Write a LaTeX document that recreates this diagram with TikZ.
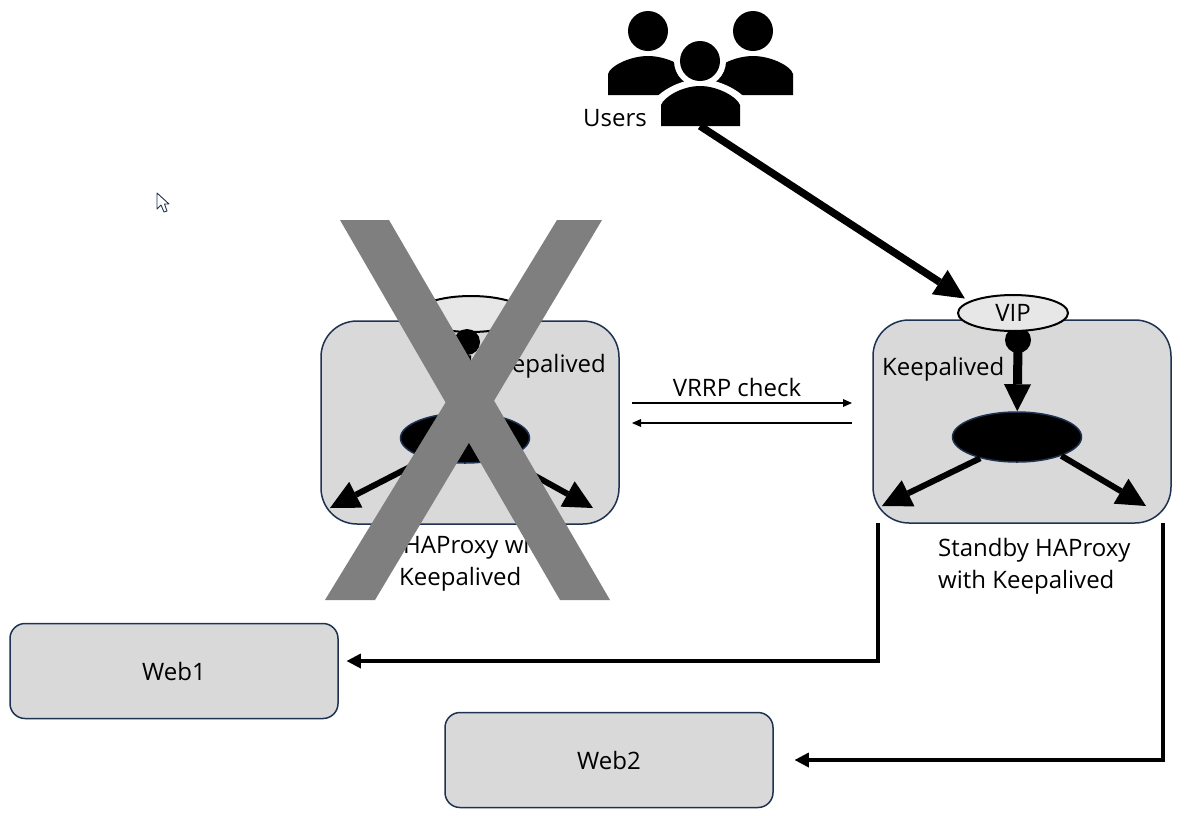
\documentclass[tikz,border=0pt]{standalone}
\usepackage{fontspec}
\setmainfont{Open Sans}
\usetikzlibrary{arrows.meta,shapes.geometric}
\definecolor{edgeblue}{HTML}{1F3251}
\definecolor{boxgray}{HTML}{D9D9D9}
\definecolor{vipgray}{HTML}{E7E7E7}
\definecolor{xgray}{HTML}{7F7F7F}
\tikzset{
  lbl/.style={font=\fontsize{24}{29}\selectfont,text=black,inner sep=0pt,align=left},
  lbx/.style={draw=edgeblue,line width=1.5pt,fill=boxgray,rounded corners=36pt,minimum width=298pt,minimum height=203pt,inner sep=0pt},
  webbox/.style={draw=edgeblue,line width=1.5pt,fill=boxgray,rounded corners=15pt,minimum width=328pt,minimum height=95pt,inner sep=0pt,font=\fontsize{24}{29}\selectfont},
  vipell/.style={ellipse,draw=black,line width=2pt,fill=vipgray,minimum width=110pt,minimum height=36pt,inner sep=0pt,font=\fontsize{24}{29}\selectfont},
  hubell/.style={ellipse,draw=edgeblue,line width=1.5pt,fill=black,minimum width=129pt,minimum height=50pt,inner sep=0pt},
  dotc/.style={circle,fill=black,minimum size=26pt,inner sep=0pt},
  bigarrow/.style={line width=9pt,-{Triangle[length=27pt,width=27pt,line width=0pt]},black},
  sidearrow/.style={line width=6pt,-{Triangle[length=29pt,width=29pt,line width=0pt]},black},
  mainarrow/.style={line width=7.5pt,-{Triangle[length=30pt,width=29pt,line width=0pt]},black},
  wirearrow/.style={line width=4pt,-{Triangle[length=14pt,width=15pt,line width=0pt]},black},
  thinarrow/.style={line width=1.8pt,-{Triangle[length=9pt,width=8pt,line width=0pt]},black},
  xstroke/.style={fill=xgray,draw=none},
  person/.style={fill=black,draw=none},
}
\begin{document}
\begin{tikzpicture}[x=1pt,y=-1pt]
\useasboundingbox (0,0) rectangle (1187,815);
\fill[white] (0,0) rectangle (1187,815);
% cursor
\draw[edgeblue,fill=white,line width=0.9pt,line join=round] (157,193) -- (157,209) -- (161,205) -- (164,212) -- (167,211) -- (164.5,204) -- (169,204) -- cycle;
% users icon
\fill[person] (648,31) circle (20);
\fill[person] (753,31) circle (20);
\fill[person] (608,95) -- (608,74) .. controls (610,66) and (630,56) .. (648,56) .. controls (666,56) and (686,66) .. (688,74) -- (688,95) -- cycle;
\fill[person] (713,95) -- (713,74) .. controls (715,66) and (735,56) .. (753,56) .. controls (771,56) and (791,66) .. (793,74) -- (793,95) -- cycle;
\fill[white] (700,61) circle (26);
\fill[white] (653,130) -- (653,103) .. controls (656,93) and (680,79) .. (700,79) .. controls (720,79) and (745,93) .. (748,103) -- (748,130) -- cycle;
\fill[person] (700,61) circle (20);
\fill[person] (661,126) -- (661,105) .. controls (664,97) and (682,86) .. (700,86) .. controls (718,86) and (737,97) .. (740,105) -- (740,126) -- cycle;
\coordinate (usersfoot) at (700,126);
\node[lbl] (userslbl) at (615,118) {Users};
% left box
\node[lbx] (lbox) at (470,422.5) {};
\node[vipell] (lvip) at (471,314) {};
\node[dotc] (ldot) at (467,342) {};
\node[hubell] (lhub) at (465,438) {};
\draw[bigarrow] (ldot) -- (lhub);
\coordinate (ltipl) at (330,508);
\coordinate (ltipr) at (593,508);
\draw[sidearrow] (lhub.208) -- (ltipl);
\draw[sidearrow] (lhub.-28) -- (ltipr);
\node[lbl,anchor=east] (lkeep) at (606,366) {Keepalived};
\node[lbl,anchor=west] (lcap) at (403,547) {HAProxy with};
\node[lbl,anchor=west] (lcapb) at (399,579) {Keepalived};
% right box
\node[lbx] (rbox) at (1022,421.5) {};
\node[dotc] (rdot) at (1018,340) {};
\node[vipell] (rvip) at (1013,313) {VIP};
\node[hubell] (rhub) at (1017,437) {};
\coordinate (rdotc) at (1018,340);
\draw[bigarrow] (rdotc) -- (rhub);
\coordinate (rtipl) at (882,506);
\coordinate (rtipr) at (1146,506);
\draw[sidearrow] (rhub.210) -- (rtipl);
\draw[sidearrow] (rhub.-23) -- (rtipr);
\node[lbl,anchor=west] (rkeep) at (882,369) {Keepalived};
\node[lbl,anchor=west] (rcap) at (938,550) {Standby HAProxy};
\node[lbl,anchor=west] (rcapb) at (938,582) {with Keepalived};
% users arrow
\draw[mainarrow,shorten >=5pt] (usersfoot) -- (rvip.165);
% VRRP
\node[lbl] (vrrp) at (737,387) {VRRP check};
\coordinate (vl) at (632,403);
\coordinate (vr) at (852,403);
\coordinate (wl) at (632,423);
\coordinate (wr) at (852,423);
\draw[thinarrow] (vl) -- (vr);
\draw[thinarrow] (wr) -- (wl);
% web boxes
\node[webbox] (web1) at (174,671) {Web1};
\node[webbox] (web2) at (609,760) {Web2};
\coordinate (c1) at (878,523);
\coordinate (c2) at (1163,523);
\draw[wirearrow] (c1) |- ([shift={(8,-10)}]web1.east);
\draw[wirearrow] (c2) |- ([shift={(21,0)}]web2.east);
% X
\fill[xgray] (340,220) -- (389,220) -- (610,600) -- (560,600) -- cycle;
\fill[xgray] (557,220) -- (602,220) -- (375,600) -- (325,600) -- cycle;
\end{tikzpicture}
\end{document}
